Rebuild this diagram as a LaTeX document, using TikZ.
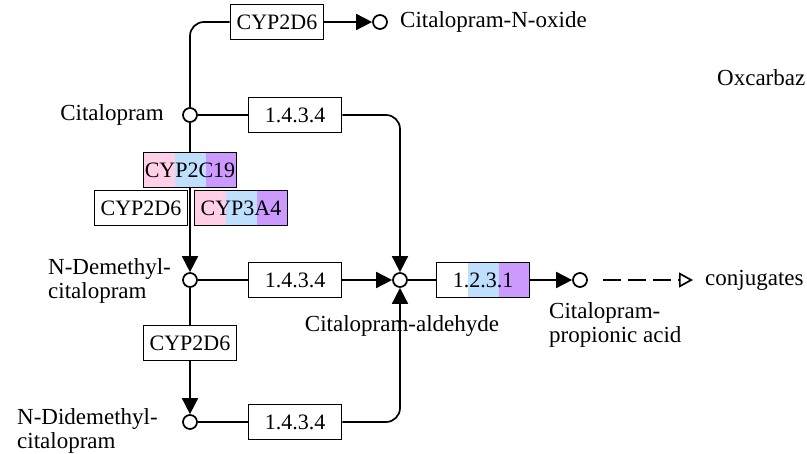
\documentclass[tikz,border=0pt]{standalone}
\usepackage{fontspec}
\setmainfont{Liberation Serif}
\usetikzlibrary{arrows.meta,calc}
\definecolor{kgpink}{RGB}{255,208,232}
\definecolor{kgblue}{RGB}{191,223,255}
\definecolor{kgpurple}{RGB}{204,153,255}

\begin{document}
\begin{tikzpicture}[x=1pt, y=-1pt,
    enzbox/.style={rectangle, draw=black, line width=1.7pt, fill=white, minimum width=93pt,
      minimum height=35pt, inner sep=0pt, font=\fontsize{22}{24}\selectfont},
    tricol/.style n args={3}{path picture={
      \coordinate (sw) at (path picture bounding box.south west);
      \coordinate (ne) at (path picture bounding box.north east);
      \fill[#1] (sw) rectangle ($(sw|-ne)!1/3!(ne)$);
      \fill[#2] ($(sw)!1/3!(sw-|ne)$) rectangle ($(sw|-ne)!2/3!(ne)$);
      \fill[#3] ($(sw)!2/3!(sw-|ne)$) rectangle (ne);}},
    cpd/.style={circle, draw=black, line width=1.7pt, fill=white, minimum size=14pt, inner sep=0pt},
    lbl/.style={inner sep=0pt, align=left, font=\fontsize{23}{24}\selectfont},
    line/.style={line width=1.7pt},
    arr/.style={-{Triangle[length=16pt, width=16pt]}, line width=1.7pt}
  ]
    \useasboundingbox (0,0) rectangle (807,454);

    % Compounds
    \node[cpd] (cit) at (190,115) {};
    \node[cpd] (nox) at (380,22) {};
    \node[cpd] (ndm) at (190,280) {};
    \node[cpd] (nddm) at (190,422) {};
    \node[cpd] (ald) at (400,280) {};
    \node[cpd] (cpa) at (580,280) {};

    % Compound labels
    \node[lbl, anchor=east] (citl) at (164,115) {Citalopram};
    \node[lbl, anchor=west] (noxl) at (400,22) {Citalopram-N-oxide};
    \node[lbl, anchor=east] (ndml) at (171,281) {N-Demethyl-\\citalopram};
    \node[lbl, anchor=west] (nddml) at (17,431) {N-Didemethyl-\\citalopram};
    \node[lbl] (aldl) at (402,326) {Citalopram-aldehyde};
    \node[lbl, anchor=north west] (cpal) at (549,302) {Citalopram-\\propionic acid};
    \node[lbl, anchor=west] (conj) at (705,280) {conjugates};
    \node[lbl, anchor=west] (oxc) at (717,78) {Oxcarbaz};

    % Enzymes
    \node[enzbox] (oxid) at (277,22) {CYP2D6};
    \node[enzbox] (dm1) at (295,115) {1.4.3.4};
    \node[enzbox, tricol={kgpink}{kgblue}{kgpurple}] (c2c19) at (190,170) {CYP2C19};
    \node[enzbox] (c2d6a) at (141,208) {CYP2D6};
    \node[enzbox, tricol={kgpink}{kgblue}{kgpurple}] (c3a4) at (241,208) {CYP3A4};
    \node[enzbox] (dm2) at (295,280) {1.4.3.4};
    \node[enzbox] (c2d6b) at (190,343) {CYP2D6};
    \node[enzbox] (dm3) at (295,422) {1.4.3.4};
    \node[enzbox, tricol={white}{kgblue}{kgpurple}] (ald1) at (483,280) {1.2.3.1};

    % Reactions
    \draw[line, rounded corners=14pt] (cit.north) |- (oxid.west);
    \draw[arr] (oxid.east) -- (nox.west);
    \draw[line] (cit.east) -- (dm1.west);
    \draw[arr, rounded corners=14pt] (dm1.east) -| (ald.north);
    \draw[line] (cit.south) -- (c2c19.north);
    \draw[arr] (c2c19.south) -- (ndm.north);
    \draw[line] (ndm.east) -- (dm2.west);
    \draw[arr] (dm2.east) -- (ald.west);
    \draw[line] (ndm.south) -- (c2d6b.north);
    \draw[arr] (c2d6b.south) -- (nddm.north);
    \draw[line] (nddm.east) -- (dm3.west);
    \draw[arr, rounded corners=14pt] (dm3.east) -| (ald.south);
    \draw[line] (ald.east) -- (ald1.west);
    \draw[arr] (ald1.east) -- (cpa.west);
    \draw[line, dash pattern=on 18pt off 7pt, shorten <=15pt, shorten >=12pt,
          -{Triangle[open, length=14pt, width=15pt]}] (cpa.east) -- (conj.west);
  \end{tikzpicture}
\end{document}
